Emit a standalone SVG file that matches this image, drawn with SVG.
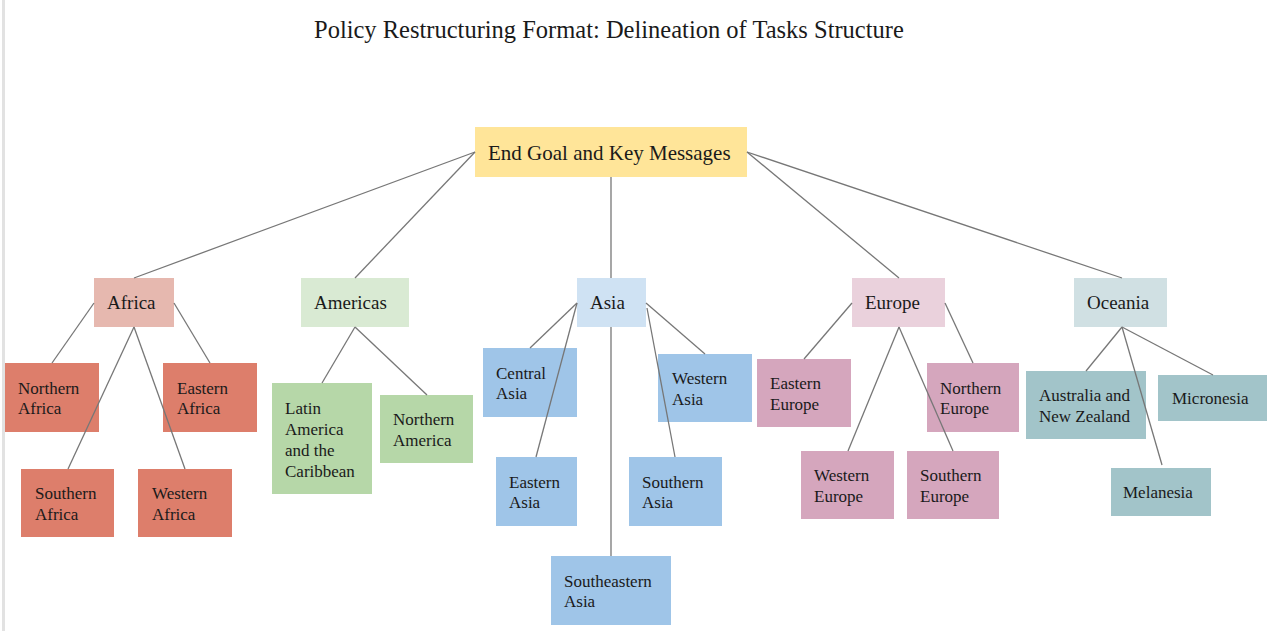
<svg xmlns="http://www.w3.org/2000/svg" width="1268" height="631" viewBox="0 0 1268 631">
<style>
text{font-family:"Liberation Serif","Times New Roman",serif;fill:#1a1a1a}
.title{font-size:24.5px}
.top{font-size:21px}
.reg{font-size:19px}
.leaf{font-size:17px}
.conn line{stroke:#777;stroke-width:1.3;fill:none}
</style>
<rect x="0" y="0" width="1268" height="631" fill="#fff"/>
<rect x="2" y="0" width="3" height="631" fill="#e2e2e2"/>
<text class="title" x="314" y="38">Policy Restructuring Format: Delineation of Tasks Structure</text>

<g id="node-top"><rect x="475" y="127" width="272" height="50" fill="#ffe599"/><text class="top" x="488" y="159.5">End Goal and Key Messages</text></g>

<g id="node-africa"><rect x="94" y="278" width="80" height="49" fill="#e6b8af"/><text class="reg" x="107" y="309">Africa</text></g>
<g id="node-northern-africa"><rect x="5" y="363" width="94" height="69" fill="#dd7e6b"/><text class="leaf" x="18" y="393.5">Northern<tspan x="18" y="414">Africa</tspan></text></g>
<g id="node-eastern-africa"><rect x="163" y="363" width="94" height="69" fill="#dd7e6b"/><text class="leaf" x="177" y="393.5">Eastern<tspan x="177" y="414">Africa</tspan></text></g>
<g id="node-southern-africa"><rect x="21" y="469" width="93" height="68" fill="#dd7e6b"/><text class="leaf" x="35" y="499">Southern<tspan x="35" y="519.5">Africa</tspan></text></g>
<g id="node-western-africa"><rect x="138" y="469" width="94" height="68" fill="#dd7e6b"/><text class="leaf" x="152" y="499">Western<tspan x="152" y="519.5">Africa</tspan></text></g>

<g id="node-americas"><rect x="301" y="278" width="108" height="49" fill="#d9ead3"/><text class="reg" x="314" y="309">Americas</text></g>
<g id="node-latin-america"><rect x="272" y="383" width="100" height="111" fill="#b6d7a8"/><text class="leaf" x="285" y="414">Latin<tspan x="285" y="435">America</tspan><tspan x="285" y="456">and the</tspan><tspan x="285" y="477">Caribbean</tspan></text></g>
<g id="node-northern-america"><rect x="380" y="395" width="93" height="68" fill="#b6d7a8"/><text class="leaf" x="393" y="425">Northern<tspan x="393" y="445.5">America</tspan></text></g>

<g id="node-asia"><rect x="577" y="278" width="69" height="49" fill="#cfe2f3"/><text class="reg" x="590" y="309">Asia</text></g>
<g id="node-central-asia"><rect x="483" y="348" width="94" height="69" fill="#9fc5e8"/><text class="leaf" x="496" y="378.5">Central<tspan x="496" y="399">Asia</tspan></text></g>
<g id="node-western-asia"><rect x="658" y="354" width="94" height="68" fill="#9fc5e8"/><text class="leaf" x="672" y="384">Western<tspan x="672" y="404.5">Asia</tspan></text></g>
<g id="node-eastern-asia"><rect x="496" y="457" width="81" height="69" fill="#9fc5e8"/><text class="leaf" x="509" y="487.5">Eastern<tspan x="509" y="508">Asia</tspan></text></g>
<g id="node-southern-asia"><rect x="629" y="457" width="93" height="69" fill="#9fc5e8"/><text class="leaf" x="642" y="487.5">Southern<tspan x="642" y="508">Asia</tspan></text></g>
<g id="node-southeastern-asia"><rect x="551" y="556" width="120" height="69" fill="#9fc5e8"/><text class="leaf" x="564" y="586.5">Southeastern<tspan x="564" y="607">Asia</tspan></text></g>

<g id="node-europe"><rect x="852" y="278" width="93" height="49" fill="#ead1dc"/><text class="reg" x="865" y="309">Europe</text></g>
<g id="node-eastern-europe"><rect x="757" y="359" width="94" height="68" fill="#d5a6bd"/><text class="leaf" x="770" y="389">Eastern<tspan x="770" y="409.5">Europe</tspan></text></g>
<g id="node-northern-europe"><rect x="927" y="363" width="92" height="69" fill="#d5a6bd"/><text class="leaf" x="940" y="393.5">Northern<tspan x="940" y="414">Europe</tspan></text></g>
<g id="node-western-europe"><rect x="801" y="451" width="93" height="68" fill="#d5a6bd"/><text class="leaf" x="814" y="481">Western<tspan x="814" y="501.5">Europe</tspan></text></g>
<g id="node-southern-europe"><rect x="907" y="451" width="92" height="68" fill="#d5a6bd"/><text class="leaf" x="920" y="481">Southern<tspan x="920" y="501.5">Europe</tspan></text></g>

<g id="node-oceania"><rect x="1074" y="278" width="93" height="49" fill="#d0e0e3"/><text class="reg" x="1087" y="309">Oceania</text></g>
<g id="node-australia"><rect x="1026" y="371" width="120" height="68" fill="#a2c4c9"/><text class="leaf" x="1039" y="401">Australia and<tspan x="1039" y="421.5">New Zealand</tspan></text></g>
<g id="node-micronesia"><rect x="1158" y="375" width="109" height="46" fill="#a2c4c9"/><text class="leaf" x="1172" y="404">Micronesia</text></g>
<g id="node-melanesia"><rect x="1111" y="468" width="100" height="48" fill="#a2c4c9"/><text class="leaf" x="1123" y="498">Melanesia</text></g>

<g id="connectors" class="conn">
<line x1="475" y1="152" x2="134" y2="278"/>
<line x1="475" y1="152" x2="355" y2="278"/>
<line x1="611" y1="177" x2="611" y2="278"/>
<line x1="747" y1="152" x2="899" y2="278"/>
<line x1="747" y1="152" x2="1122" y2="278"/>
<line x1="94" y1="303" x2="52" y2="363"/>
<line x1="174" y1="303" x2="210" y2="363"/>
<line x1="134" y1="327" x2="68" y2="469"/>
<line x1="134" y1="327" x2="185" y2="469"/>
<line x1="355" y1="327" x2="322" y2="383"/>
<line x1="355" y1="327" x2="427" y2="395"/>
<line x1="577" y1="303" x2="530" y2="348"/>
<line x1="577" y1="303" x2="536" y2="457"/>
<line x1="611" y1="327" x2="611" y2="556"/>
<line x1="646" y1="303" x2="705" y2="354"/>
<line x1="647" y1="308" x2="675" y2="457"/>
<line x1="852" y1="303" x2="804" y2="359"/>
<line x1="899" y1="327" x2="848" y2="451"/>
<line x1="899" y1="327" x2="953" y2="451"/>
<line x1="945" y1="303" x2="973" y2="363"/>
<line x1="1122" y1="327" x2="1086" y2="371"/>
<line x1="1122" y1="327" x2="1162" y2="465"/>
<line x1="1122" y1="327" x2="1213" y2="375"/>
</g>
</svg>
